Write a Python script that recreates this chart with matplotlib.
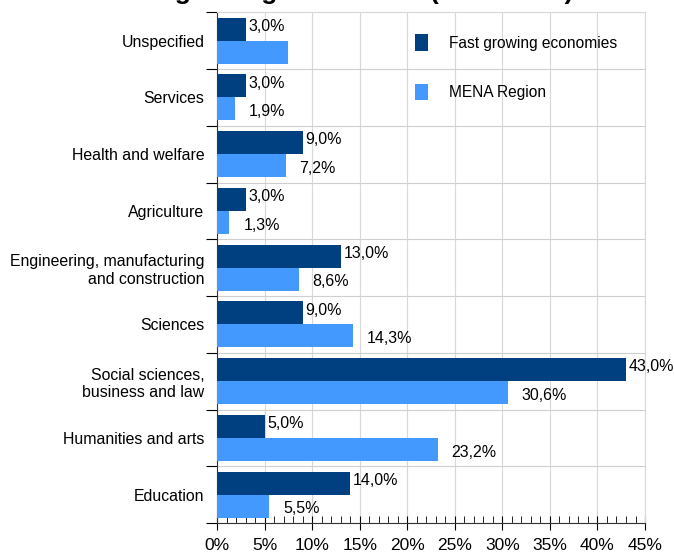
import numpy as np
import matplotlib
matplotlib.use("Agg")
import matplotlib.pyplot as plt
from matplotlib.ticker import MultipleLocator, FuncFormatter

plt.rcParams['font.family'] = ['Liberation Sans', 'DejaVu Sans']

fields = ["Education", "Humanities and arts", "Social sciences,\nbusiness and law",
          "Sciences", "Engineering, manufacturing\nand construction", "Agriculture",
          "Health and welfare", "Services", "Unspecified"]
fast_growing = [14.0, 5.0, 43.0, 9.0, 13.0, 3.0, 9.0, 3.0, 3.0]
mena = [5.5, 23.2, 30.6, 14.3, 8.6, 1.3, 7.2, 1.9, 7.5]
mena_labelled = [True, True, True, True, True, True, True, True, False]

dark = "#004080"
light = "#4499ff"

fig = plt.figure(figsize=(6.74, 5.57), dpi=100)
ax = fig.add_axes([0.322, 0.061, 0.635, 0.917])

y = np.arange(len(fields))
h = 0.405
ax.barh(y + h / 2, fast_growing, height=h, color=dark, label="Fast growing economies", zorder=3)
ax.barh(y - h / 2, mena, height=h, color=light, label="MENA Region", zorder=3)


def pct(v):
    return f"{v:.1f}%".replace(".", ",")


for i in range(len(fields)):
    ax.annotate(pct(fast_growing[i]), (fast_growing[i], y[i] + h / 2), xytext=(2, 2),
                textcoords="offset points", va="center", ha="left", fontsize=11.5)
    if mena_labelled[i]:
        ax.annotate(pct(mena[i]), (mena[i], y[i] - h / 2), xytext=(10, -2),
                    textcoords="offset points", va="center", ha="left", fontsize=11.5)

ax.set_xlim(0, 45)
ax.set_ylim(-0.5, len(fields) - 0.5)
ax.xaxis.set_major_locator(MultipleLocator(5))
ax.xaxis.set_minor_locator(MultipleLocator(1))
ax.xaxis.set_major_formatter(FuncFormatter(lambda v, _: f"{v:.0f}%"))
ax.tick_params(axis="x", which="major", direction="inout", length=10, width=0.8,
               labelsize=12.5, pad=6)
ax.tick_params(axis="x", which="minor", direction="in", length=5, width=0.6)

ax.set_yticks(y)
ax.set_yticklabels(fields, fontsize=11.4)
ax.set_yticks(np.arange(len(fields) + 1) - 0.5, minor=True)
ax.tick_params(axis="y", which="major", length=0, pad=9)
ax.tick_params(axis="y", which="minor", direction="out", length=8, width=0.8)
for lab in ax.get_yticklabels():
    lab.set_multialignment("right")

ax.grid(axis="x", which="major", color="#d8d8d8", linewidth=0.8, zorder=0)
ax.grid(axis="y", which="minor", color="#cfcfcf", linewidth=0.8, zorder=0)
for side in ("top", "right"):
    ax.spines[side].set_color("#d8d8d8")
ax.spines["left"].set_color("#333333")
ax.spines["bottom"].set_color("#333333")

ax.legend(loc="upper left", bbox_to_anchor=(0.43, 0.985), frameon=False, fontsize=11.2,
          handlelength=0.8, handleheight=1.3, labelspacing=2.1, handletextpad=1.4)

fig.text(0.51, 1 + 1 / 557, "Fast growing economies (2000-2006)", ha="center",
         va="baseline", fontsize=19, fontweight="bold")

fig.savefig("out.png", dpi=100)
